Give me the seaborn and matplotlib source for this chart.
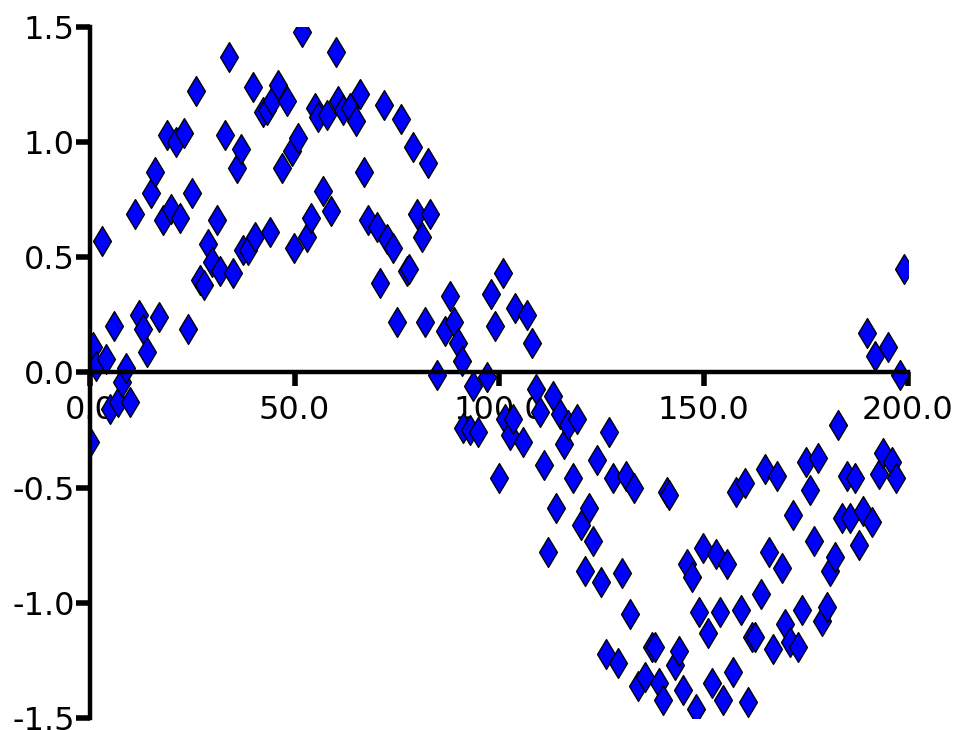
import matplotlib
matplotlib.use("Agg")
import matplotlib.pyplot as plt
import seaborn as sns
import pandas as pd

x_vals = [0.0, 0.7, 1.5, 2.9, 3.9, 4.9, 5.9, 6.8, 7.8, 8.8, 9.8, 11.0, 12.0, 13.0, 13.9,
          14.9, 15.9, 16.9, 17.8, 18.8, 19.8, 21.0, 22.0, 23.0, 24.0, 24.9, 25.9, 26.9,
          27.9, 28.9, 29.8, 31.1, 31.8, 33.0, 34.0, 35.0, 35.9, 36.9, 37.4, 38.6, 39.9,
          40.3, 42.3, 43.3, 44.0, 44.5, 46.0, 46.9, 48.2, 49.4, 49.9, 50.9, 51.8, 53.1,
          54.0, 55.0, 55.7, 57.0, 57.9, 58.9, 60.1, 60.6, 61.9, 63.6, 65.0, 66.0, 67.0,
          68.0, 70.2, 70.9, 71.9, 72.6, 74.1, 75.1, 76.0, 77.5, 78.0, 79.0, 80.0, 81.2,
          81.9, 82.6, 83.1, 84.8, 86.8, 88.0, 89.0, 90.0, 91.0, 91.2, 92.9, 93.6, 94.9,
          97.1, 98.0, 99.0, 100.0, 101.0, 101.5, 102.7, 103.4, 103.9, 105.9, 106.8, 108.1,
          109.0, 110.0, 111.0, 112.0, 113.2, 113.9, 114.9, 115.9, 116.9, 118.1, 119.1,
          120.0, 121.0, 122.0, 123.0, 124.0, 124.9, 126.2, 126.9, 127.9, 129.1, 130.1,
          131.1, 132.0, 133.0, 134.0, 135.7, 137.4, 138.1, 139.1, 140.1, 141.1, 141.6,
          143.0, 144.0, 145.0, 146.0, 147.2, 148.2, 148.9, 149.9, 151.1, 152.1, 153.1,
          154.0, 154.8, 155.7, 157.2, 157.9, 159.2, 160.1, 160.9, 161.9, 162.6, 164.1,
          165.0, 166.0, 167.0, 168.0, 169.2, 169.9, 171.1, 171.9, 173.1, 174.1, 175.1,
          176.0, 177.0, 178.0, 179.0, 180.2, 180.9, 182.2, 182.9, 183.9, 185.1, 185.8,
          187.0, 188.0, 189.0, 190.0, 191.2, 191.9, 192.9, 193.9, 195.1, 196.1, 197.1,
          198.0, 199.0]

y_vals = [-0.30, 0.11, 0.03, 0.57, 0.06, -0.16, 0.20, -0.13, -0.04, 0.02, -0.13, 0.69,
          0.25, 0.19, 0.09, 0.78, 0.87, 0.24, 0.66, 1.03, 0.71, 1.00, 0.67, 1.04, 0.19,
          0.78, 1.22, 0.40, 0.38, 0.56, 0.48, 0.66, 0.44, 1.03, 1.37, 0.43, 0.89, 0.97,
          0.53, 0.53, 1.24, 0.59, 1.13, 1.14, 0.61, 1.18, 1.25, 0.89, 1.18, 0.96, 0.54,
          1.02, 1.48, 0.59, 0.67, 1.15, 1.11, 0.79, 1.12, 0.70, 1.39, 1.18, 1.14, 1.15,
          1.09, 1.21, 0.87, 0.66, 0.63, 0.39, 1.16, 0.58, 0.54, 0.22, 1.10, 0.44, 0.45,
          0.98, 0.69, 0.59, 0.22, 0.91, 0.69, -0.01, 0.18, 0.33, 0.22, 0.13, 0.05, -0.24,
          -0.25, -0.06, -0.26, -0.02, 0.34, 0.20, -0.46, 0.43, -0.20, -0.27, -0.20, 0.28,
          -0.30, 0.25, 0.13, -0.07, -0.17, -0.40, -0.78, -0.10, -0.59, -0.18, -0.31, -0.23,
          -0.46, -0.20, -0.66, -0.86, -0.59, -0.73, -0.38, -0.91, -1.22, -0.26, -0.46,
          -1.26, -0.87, -0.45, -1.05, -0.50, -1.36, -1.32, -1.19, -1.19, -1.35, -1.42,
          -0.52, -0.53, -1.27, -1.21, -1.38, -0.83, -0.89, -1.46, -1.04, -0.76, -1.13,
          -1.35, -0.79, -1.04, -1.42, -0.83, -1.30, -0.52, -1.03, -0.48, -1.43, -1.15,
          -1.15, -0.96, -0.42, -0.78, -1.20, -0.45, -0.85, -1.09, -1.17, -0.62, -1.19,
          -1.03, -0.39, -0.51, -0.73, -0.37, -1.08, -1.02, -0.86, -0.80, -0.23, -0.63,
          -0.45, -0.63, -0.46, -0.75, -0.60, 0.17, -0.65, 0.07, -0.44, -0.35, 0.11, -0.39,
          -0.46, -0.01, 0.45]

x_ticks = [0, 50, 100, 150, 200]
x_tick_labels = ["0.0", "50.0", "100.0", "150.0", "200.0"]
y_ticks = [-1.5, -1.0, -0.5, 0.0, 0.5, 1.0, 1.5]
y_tick_labels = ["-1.5", "-1.0", "-0.5", "0.0", "0.5", "1.0", "1.5"]

df = pd.DataFrame({"x": x_vals, "y": y_vals})

sns.set_style("white")
plt.rcParams['font.family'] = ['DejaVu Sans']

fig = plt.figure(figsize=(9.59, 7.30), dpi=100)
ax = fig.add_axes([90 / 959, 1 - 718 / 730, (908 - 90) / 959, (718 - 27) / 730])

sns.scatterplot(data=df, x="x", y="y", ax=ax, marker="d", s=230,
                color="#0000ff", edgecolor="black", linewidth=1.0, legend=False)

ax.set_xlim(0, 200)
ax.set_ylim(-1.5, 1.5)
ax.set_xlabel("")
ax.set_ylabel("")

ax.spines["right"].set_visible(False)
ax.spines["top"].set_visible(False)
ax.spines["bottom"].set_position(("data", 0))
ax.spines["left"].set_position(("data", 0))
for s in ("left", "bottom"):
    ax.spines[s].set_linewidth(3.2)
    ax.spines[s].set_color("black")

ax.set_xticks(x_ticks)
ax.set_xticklabels(x_tick_labels)
ax.set_yticks(y_ticks)
ax.set_yticklabels(y_tick_labels)
ax.tick_params(axis="x", direction="out", length=10, width=4, pad=6,
               labelsize=23, colors="black", bottom=True)
ax.tick_params(axis="y", direction="out", length=10, width=4, pad=1,
               labelsize=23, colors="black", left=True)

fig.savefig("out.png", dpi=100)
